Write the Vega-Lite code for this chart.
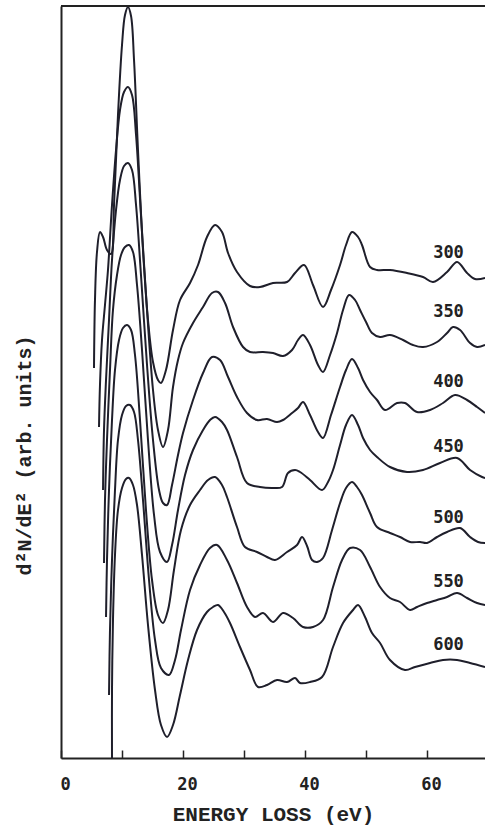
{
  "$schema": "https://vega.github.io/schema/vega-lite/v6.json",
  "autosize": "none",
  "width": 424,
  "height": 752,
  "padding": {"left": 61, "top": 6, "right": 0, "bottom": 68},
  "background": "white",
  "config": {"view": {"stroke": null}},
  "datasets": {
    "curves": [
      {"c":"300","e":5.41,"v":39.0},{"c":"300","e":5.57,"v":45.8},{"c":"300","e":5.90,"v":50.6},{"c":"300","e":6.39,"v":52.6},{"c":"300","e":6.89,"v":52.1},{"c":"300","e":7.54,"v":50.8},{"c":"300","e":8.20,"v":50.4},{"c":"300","e":8.69,"v":55.3},{"c":"300","e":9.34,"v":64.3},{"c":"300","e":10.00,"v":71.3},{"c":"300","e":10.49,"v":74.3},{"c":"300","e":10.98,"v":75.1},{"c":"300","e":11.48,"v":74.2},{"c":"300","e":11.97,"v":69.8},{"c":"300","e":12.62,"v":60.8},{"c":"300","e":13.44,"v":50.8},{"c":"300","e":14.26,"v":43.8},{"c":"300","e":15.08,"v":39.6},{"c":"300","e":15.90,"v":37.8},{"c":"300","e":16.39,"v":37.5},{"c":"300","e":17.21,"v":38.8},{"c":"300","e":18.36,"v":42.8},{"c":"300","e":19.51,"v":45.8},{"c":"300","e":21.15,"v":47.5},{"c":"300","e":22.46,"v":49.3},{"c":"300","e":23.93,"v":52.1},{"c":"300","e":25.25,"v":53.3},{"c":"300","e":26.39,"v":52.6},{"c":"300","e":27.38,"v":50.5},{"c":"300","e":28.85,"v":48.6},{"c":"300","e":30.98,"v":47.2},{"c":"300","e":32.62,"v":47.1},{"c":"300","e":34.75,"v":47.5},{"c":"300","e":37.05,"v":47.6},{"c":"300","e":38.36,"v":48.5},{"c":"300","e":39.84,"v":49.3},{"c":"300","e":41.31,"v":47.3},{"c":"300","e":42.95,"v":45.1},{"c":"300","e":44.26,"v":46.8},{"c":"300","e":45.74,"v":49.3},{"c":"300","e":46.72,"v":51.3},{"c":"300","e":47.70,"v":52.6},{"c":"300","e":48.69,"v":52.1},{"c":"300","e":49.34,"v":51.3},{"c":"300","e":50.66,"v":49.1},{"c":"300","e":51.80,"v":48.8},{"c":"300","e":53.93,"v":48.8},{"c":"300","e":56.72,"v":48.5},{"c":"300","e":59.34,"v":48.1},{"c":"300","e":60.98,"v":47.6},{"c":"300","e":63.28,"v":48.6},{"c":"300","e":64.92,"v":49.6},{"c":"300","e":66.56,"v":48.5},{"c":"300","e":67.87,"v":47.9},{"c":"300","e":69.51,"v":48.0},

      {"c":"350","e":6.23,"v":33.1},{"c":"350","e":6.39,"v":37.3},{"c":"350","e":6.72,"v":41.8},{"c":"350","e":7.21,"v":45.3},{"c":"350","e":7.70,"v":48.8},{"c":"350","e":8.36,"v":55.3},{"c":"350","e":9.02,"v":60.8},{"c":"350","e":9.67,"v":64.8},{"c":"350","e":10.33,"v":66.6},{"c":"350","e":10.98,"v":67.1},{"c":"350","e":11.64,"v":66.3},{"c":"350","e":12.30,"v":62.3},{"c":"350","e":13.11,"v":54.3},{"c":"350","e":14.10,"v":44.8},{"c":"350","e":15.08,"v":36.8},{"c":"350","e":15.90,"v":32.8},{"c":"350","e":16.72,"v":31.1},{"c":"350","e":17.54,"v":32.8},{"c":"350","e":18.36,"v":37.1},{"c":"350","e":19.18,"v":39.8},{"c":"350","e":20.00,"v":41.5},{"c":"350","e":21.64,"v":43.5},{"c":"350","e":23.28,"v":45.1},{"c":"350","e":24.75,"v":46.5},{"c":"350","e":25.74,"v":46.6},{"c":"350","e":26.89,"v":45.5},{"c":"350","e":28.20,"v":43.1},{"c":"350","e":29.84,"v":41.1},{"c":"350","e":30.98,"v":40.6},{"c":"350","e":33.11,"v":40.6},{"c":"350","e":34.75,"v":40.5},{"c":"350","e":36.39,"v":40.2},{"c":"350","e":37.87,"v":40.8},{"c":"350","e":38.85,"v":41.8},{"c":"350","e":39.67,"v":42.3},{"c":"350","e":40.82,"v":41.3},{"c":"350","e":42.13,"v":39.3},{"c":"350","e":42.95,"v":38.6},{"c":"350","e":44.10,"v":40.3},{"c":"350","e":45.25,"v":42.5},{"c":"350","e":46.23,"v":44.8},{"c":"350","e":47.21,"v":46.3},{"c":"350","e":48.20,"v":45.8},{"c":"350","e":49.02,"v":44.8},{"c":"350","e":50.00,"v":43.6},{"c":"350","e":50.98,"v":42.5},{"c":"350","e":52.30,"v":42.1},{"c":"350","e":53.93,"v":42.3},{"c":"350","e":56.07,"v":41.8},{"c":"350","e":57.70,"v":41.3},{"c":"350","e":59.34,"v":41.1},{"c":"350","e":61.64,"v":41.6},{"c":"350","e":63.28,"v":42.5},{"c":"350","e":64.26,"v":43.1},{"c":"350","e":65.41,"v":42.8},{"c":"350","e":67.05,"v":41.5},{"c":"350","e":68.20,"v":41.1},{"c":"350","e":69.51,"v":41.3},

      {"c":"400","e":6.89,"v":26.8},{"c":"400","e":7.05,"v":32.8},{"c":"400","e":7.38,"v":37.8},{"c":"400","e":7.87,"v":43.8},{"c":"400","e":8.36,"v":49.8},{"c":"400","e":9.02,"v":54.8},{"c":"400","e":9.67,"v":57.8},{"c":"400","e":10.33,"v":59.2},{"c":"400","e":10.98,"v":59.5},{"c":"400","e":11.64,"v":58.8},{"c":"400","e":12.30,"v":55.3},{"c":"400","e":13.11,"v":48.3},{"c":"400","e":14.10,"v":39.3},{"c":"400","e":15.08,"v":31.8},{"c":"400","e":16.07,"v":26.8},{"c":"400","e":16.72,"v":25.5},{"c":"400","e":17.38,"v":25.3},{"c":"400","e":18.20,"v":27.3},{"c":"400","e":19.18,"v":30.3},{"c":"400","e":20.00,"v":32.5},{"c":"400","e":21.64,"v":35.8},{"c":"400","e":23.28,"v":38.5},{"c":"400","e":24.75,"v":40.1},{"c":"400","e":26.07,"v":39.8},{"c":"400","e":27.38,"v":38.1},{"c":"400","e":28.85,"v":36.1},{"c":"400","e":30.49,"v":34.5},{"c":"400","e":32.13,"v":33.8},{"c":"400","e":33.77,"v":33.9},{"c":"400","e":35.41,"v":33.6},{"c":"400","e":36.39,"v":33.8},{"c":"400","e":37.87,"v":34.5},{"c":"400","e":38.85,"v":35.0},{"c":"400","e":39.67,"v":35.6},{"c":"400","e":40.82,"v":34.3},{"c":"400","e":42.13,"v":32.6},{"c":"400","e":42.95,"v":32.0},{"c":"400","e":44.26,"v":34.3},{"c":"400","e":45.74,"v":37.1},{"c":"400","e":46.72,"v":38.8},{"c":"400","e":47.70,"v":39.9},{"c":"400","e":48.69,"v":39.0},{"c":"400","e":49.51,"v":37.8},{"c":"400","e":50.66,"v":36.6},{"c":"400","e":51.80,"v":35.8},{"c":"400","e":53.11,"v":34.8},{"c":"400","e":55.08,"v":35.5},{"c":"400","e":56.39,"v":35.5},{"c":"400","e":58.36,"v":34.6},{"c":"400","e":60.49,"v":34.8},{"c":"400","e":62.62,"v":35.5},{"c":"400","e":64.59,"v":36.3},{"c":"400","e":66.56,"v":35.8},{"c":"400","e":68.20,"v":35.1},{"c":"400","e":69.51,"v":34.5},

      {"c":"450","e":7.05,"v":19.5},{"c":"450","e":7.21,"v":25.8},{"c":"450","e":7.54,"v":31.8},{"c":"450","e":8.03,"v":38.8},{"c":"450","e":8.52,"v":44.8},{"c":"450","e":9.18,"v":48.3},{"c":"450","e":9.84,"v":50.3},{"c":"450","e":10.49,"v":51.1},{"c":"450","e":11.15,"v":51.3},{"c":"450","e":11.80,"v":50.6},{"c":"450","e":12.46,"v":47.3},{"c":"450","e":13.28,"v":40.8},{"c":"450","e":14.26,"v":31.8},{"c":"450","e":15.25,"v":24.3},{"c":"450","e":16.23,"v":20.6},{"c":"450","e":17.38,"v":19.6},{"c":"450","e":18.20,"v":21.3},{"c":"450","e":19.18,"v":24.8},{"c":"450","e":20.33,"v":28.3},{"c":"450","e":21.64,"v":30.8},{"c":"450","e":23.28,"v":32.8},{"c":"450","e":24.43,"v":33.8},{"c":"450","e":25.25,"v":34.1},{"c":"450","e":26.39,"v":33.6},{"c":"450","e":27.21,"v":32.8},{"c":"450","e":28.85,"v":30.1},{"c":"450","e":30.49,"v":27.5},{"c":"450","e":32.62,"v":27.1},{"c":"450","e":34.75,"v":27.0},{"c":"450","e":36.23,"v":27.1},{"c":"450","e":37.21,"v":28.5},{"c":"450","e":38.36,"v":28.8},{"c":"450","e":39.18,"v":28.6},{"c":"450","e":40.82,"v":27.8},{"c":"450","e":42.79,"v":26.8},{"c":"450","e":43.77,"v":27.6},{"c":"450","e":44.59,"v":28.8},{"c":"450","e":45.74,"v":31.3},{"c":"450","e":46.72,"v":33.3},{"c":"450","e":47.70,"v":34.3},{"c":"450","e":48.69,"v":33.3},{"c":"450","e":49.51,"v":32.0},{"c":"450","e":50.66,"v":30.8},{"c":"450","e":51.80,"v":30.1},{"c":"450","e":53.93,"v":29.1},{"c":"450","e":56.72,"v":28.6},{"c":"450","e":59.34,"v":28.8},{"c":"450","e":62.13,"v":29.5},{"c":"450","e":64.92,"v":30.0},{"c":"450","e":67.05,"v":28.8},{"c":"450","e":69.02,"v":28.1},{"c":"450","e":69.51,"v":28.0},

      {"c":"500","e":7.38,"v":14.1},{"c":"500","e":7.54,"v":19.8},{"c":"500","e":7.87,"v":26.8},{"c":"500","e":8.36,"v":33.8},{"c":"500","e":8.85,"v":38.8},{"c":"500","e":9.51,"v":41.8},{"c":"500","e":10.16,"v":43.0},{"c":"500","e":10.82,"v":43.3},{"c":"500","e":11.48,"v":42.8},{"c":"500","e":12.13,"v":40.3},{"c":"500","e":12.95,"v":33.8},{"c":"500","e":13.93,"v":24.8},{"c":"500","e":14.92,"v":17.8},{"c":"500","e":15.90,"v":14.3},{"c":"500","e":16.72,"v":13.5},{"c":"500","e":17.54,"v":14.8},{"c":"500","e":18.52,"v":18.8},{"c":"500","e":19.67,"v":22.8},{"c":"500","e":21.15,"v":25.3},{"c":"500","e":22.79,"v":26.8},{"c":"500","e":24.10,"v":27.8},{"c":"500","e":25.25,"v":28.1},{"c":"500","e":26.39,"v":27.3},{"c":"500","e":27.21,"v":26.1},{"c":"500","e":28.85,"v":23.1},{"c":"500","e":30.16,"v":21.1},{"c":"500","e":32.13,"v":20.6},{"c":"500","e":33.77,"v":20.1},{"c":"500","e":35.08,"v":19.8},{"c":"500","e":37.05,"v":20.6},{"c":"500","e":38.69,"v":21.3},{"c":"500","e":39.51,"v":22.1},{"c":"500","e":40.33,"v":21.2},{"c":"500","e":41.15,"v":19.8},{"c":"500","e":41.97,"v":19.6},{"c":"500","e":42.95,"v":20.0},{"c":"500","e":44.43,"v":22.8},{"c":"500","e":45.74,"v":25.5},{"c":"500","e":46.72,"v":27.0},{"c":"500","e":47.70,"v":27.6},{"c":"500","e":48.52,"v":27.1},{"c":"500","e":49.34,"v":26.3},{"c":"500","e":50.66,"v":24.5},{"c":"500","e":51.80,"v":23.1},{"c":"500","e":53.93,"v":22.5},{"c":"500","e":55.57,"v":22.1},{"c":"500","e":57.21,"v":21.6},{"c":"500","e":58.85,"v":21.6},{"c":"500","e":60.00,"v":21.5},{"c":"500","e":61.64,"v":22.1},{"c":"500","e":63.28,"v":22.6},{"c":"500","e":65.41,"v":23.0},{"c":"500","e":67.05,"v":22.1},{"c":"500","e":68.36,"v":21.6},{"c":"500","e":69.51,"v":21.5},

      {"c":"550","e":7.87,"v":6.3},{"c":"550","e":8.03,"v":12.8},{"c":"550","e":8.36,"v":19.8},{"c":"550","e":8.85,"v":26.8},{"c":"550","e":9.34,"v":31.8},{"c":"550","e":10.00,"v":34.3},{"c":"550","e":10.66,"v":35.2},{"c":"550","e":11.31,"v":35.3},{"c":"550","e":11.97,"v":34.6},{"c":"550","e":12.62,"v":31.8},{"c":"550","e":13.44,"v":25.8},{"c":"550","e":14.43,"v":17.8},{"c":"550","e":15.41,"v":11.8},{"c":"550","e":16.39,"v":9.0},{"c":"550","e":17.70,"v":8.3},{"c":"550","e":18.69,"v":9.8},{"c":"550","e":19.67,"v":12.8},{"c":"550","e":21.15,"v":16.8},{"c":"550","e":22.79,"v":19.3},{"c":"550","e":24.43,"v":21.0},{"c":"550","e":25.57,"v":21.3},{"c":"550","e":27.21,"v":19.8},{"c":"550","e":28.85,"v":17.5},{"c":"550","e":30.49,"v":15.1},{"c":"550","e":31.80,"v":14.1},{"c":"550","e":33.11,"v":14.5},{"c":"550","e":34.75,"v":13.6},{"c":"550","e":36.39,"v":14.5},{"c":"550","e":38.03,"v":14.0},{"c":"550","e":39.67,"v":13.1},{"c":"550","e":41.31,"v":13.1},{"c":"550","e":42.95,"v":13.8},{"c":"550","e":44.59,"v":17.1},{"c":"550","e":46.07,"v":19.8},{"c":"550","e":47.38,"v":21.0},{"c":"550","e":49.02,"v":20.8},{"c":"550","e":50.66,"v":19.1},{"c":"550","e":52.30,"v":17.1},{"c":"550","e":53.93,"v":16.0},{"c":"550","e":55.57,"v":15.6},{"c":"550","e":57.21,"v":14.8},{"c":"550","e":58.36,"v":15.1},{"c":"550","e":60.00,"v":15.5},{"c":"550","e":61.64,"v":15.8},{"c":"550","e":63.28,"v":16.1},{"c":"550","e":64.92,"v":16.5},{"c":"550","e":66.56,"v":16.0},{"c":"550","e":68.20,"v":15.5},{"c":"550","e":69.51,"v":15.3},

      {"c":"600","e":8.36,"v":0.0},{"c":"600","e":8.36,"v":6.8},{"c":"600","e":8.52,"v":13.8},{"c":"600","e":8.85,"v":20.3},{"c":"600","e":9.34,"v":24.8},{"c":"600","e":10.00,"v":27.0},{"c":"600","e":10.66,"v":27.9},{"c":"600","e":11.15,"v":28.0},{"c":"600","e":11.80,"v":27.3},{"c":"600","e":12.46,"v":25.3},{"c":"600","e":13.28,"v":20.3},{"c":"600","e":14.26,"v":13.3},{"c":"600","e":15.41,"v":6.8},{"c":"600","e":16.39,"v":3.3},{"c":"600","e":17.38,"v":2.1},{"c":"600","e":18.36,"v":3.3},{"c":"600","e":19.51,"v":6.3},{"c":"600","e":20.82,"v":9.8},{"c":"600","e":22.30,"v":12.8},{"c":"600","e":23.93,"v":14.6},{"c":"600","e":24.92,"v":15.1},{"c":"600","e":25.74,"v":15.3},{"c":"600","e":26.72,"v":14.6},{"c":"600","e":27.70,"v":13.5},{"c":"600","e":29.34,"v":11.1},{"c":"600","e":30.98,"v":8.8},{"c":"600","e":32.30,"v":7.1},{"c":"600","e":33.77,"v":7.3},{"c":"600","e":35.41,"v":7.8},{"c":"600","e":37.05,"v":7.6},{"c":"600","e":38.36,"v":8.0},{"c":"600","e":39.18,"v":7.5},{"c":"600","e":40.82,"v":7.6},{"c":"600","e":42.79,"v":8.1},{"c":"600","e":44.59,"v":11.1},{"c":"600","e":46.23,"v":13.5},{"c":"600","e":47.87,"v":14.8},{"c":"600","e":48.69,"v":15.3},{"c":"600","e":49.84,"v":14.1},{"c":"600","e":50.98,"v":12.5},{"c":"600","e":52.30,"v":11.5},{"c":"600","e":53.93,"v":9.8},{"c":"600","e":56.39,"v":8.8},{"c":"600","e":58.03,"v":9.1},{"c":"600","e":60.49,"v":9.5},{"c":"600","e":62.62,"v":9.8},{"c":"600","e":64.92,"v":9.8},{"c":"600","e":67.05,"v":9.5},{"c":"600","e":69.51,"v":9.1}
    ],
    "labels": [
      {"c":"300","e":61.0,"v":50.5},
      {"c":"350","e":61.0,"v":44.6},
      {"c":"400","e":61.0,"v":37.6},
      {"c":"450","e":61.0,"v":31.1},
      {"c":"500","e":61.0,"v":24.0},
      {"c":"550","e":61.0,"v":17.6},
      {"c":"600","e":61.0,"v":11.3}
    ]
  },
  "layer": [
    {
      "data": {"name": "curves"},
      "mark": {"type": "line", "color": "#1f1f2b", "strokeWidth": 2, "clip": true, "interpolate": "catmull-rom"},
      "encoding": {
        "x": {
          "field": "e", "type": "quantitative",
          "scale": {"domain": [0, 69.5], "nice": false, "zero": false},
          "axis": {
            "title": "ENERGY LOSS (eV)",
            "values": [0, 10, 20, 30, 40, 50, 60],
            "labelExpr": "datum.value % 20 === 0 ? datum.label : ''",
            "grid": false,
            "tickSize": -8, "tickColor": "#222", "tickWidth": 1.5,
            "domainColor": "#222", "domainWidth": 2,
            "labelFont": "DejaVu Sans Mono", "labelFontSize": 17, "labelFontWeight": "bold", "labelColor": "#222",
            "labelPadding": 26, "labelOffset": 4, "labelFlush": false,
            "titleFont": "Liberation Mono", "titleFontSize": 21, "titleFontWeight": "bold", "titleColor": "#222",
            "titleX": 212, "titleY": 56, "titleAlign": "center", "titleBaseline": "middle"
          }
        },
        "y": {
          "field": "v", "type": "quantitative",
          "scale": {"domain": [0, 75.2], "nice": false, "zero": false},
          "axis": {
            "title": "d²N/dE² (arb. units)",
            "ticks": false, "labels": false, "grid": false,
            "domainColor": "#222", "domainWidth": 2,
            "titleFont": "Liberation Mono", "titleFontSize": 20, "titleFontWeight": "bold", "titleColor": "#222",
            "titleX": -37, "titleY": 449, "titleAngle": -90, "titleAlign": "center", "titleBaseline": "middle"
          }
        },
        "detail": {"field": "c", "type": "nominal"},
        "order": {"value": null}
      }
    },
    {
      "data": {"name": "labels"},
      "mark": {"type": "text", "align": "left", "baseline": "middle", "font": "DejaVu Sans Mono", "fontSize": 17, "fontWeight": "bold", "color": "#222"},
      "encoding": {
        "x": {"field": "e", "type": "quantitative", "title": "ENERGY LOSS (eV)"},
        "y": {"field": "v", "type": "quantitative", "title": "d²N/dE² (arb. units)"},
        "text": {"field": "c", "type": "nominal"}
      }
    },
    {
      "data": {"values": [{}]},
      "mark": {"type": "rule", "color": "#222", "strokeWidth": 2},
      "encoding": {"y": {"datum": 75.2}}
    }
  ]
}
